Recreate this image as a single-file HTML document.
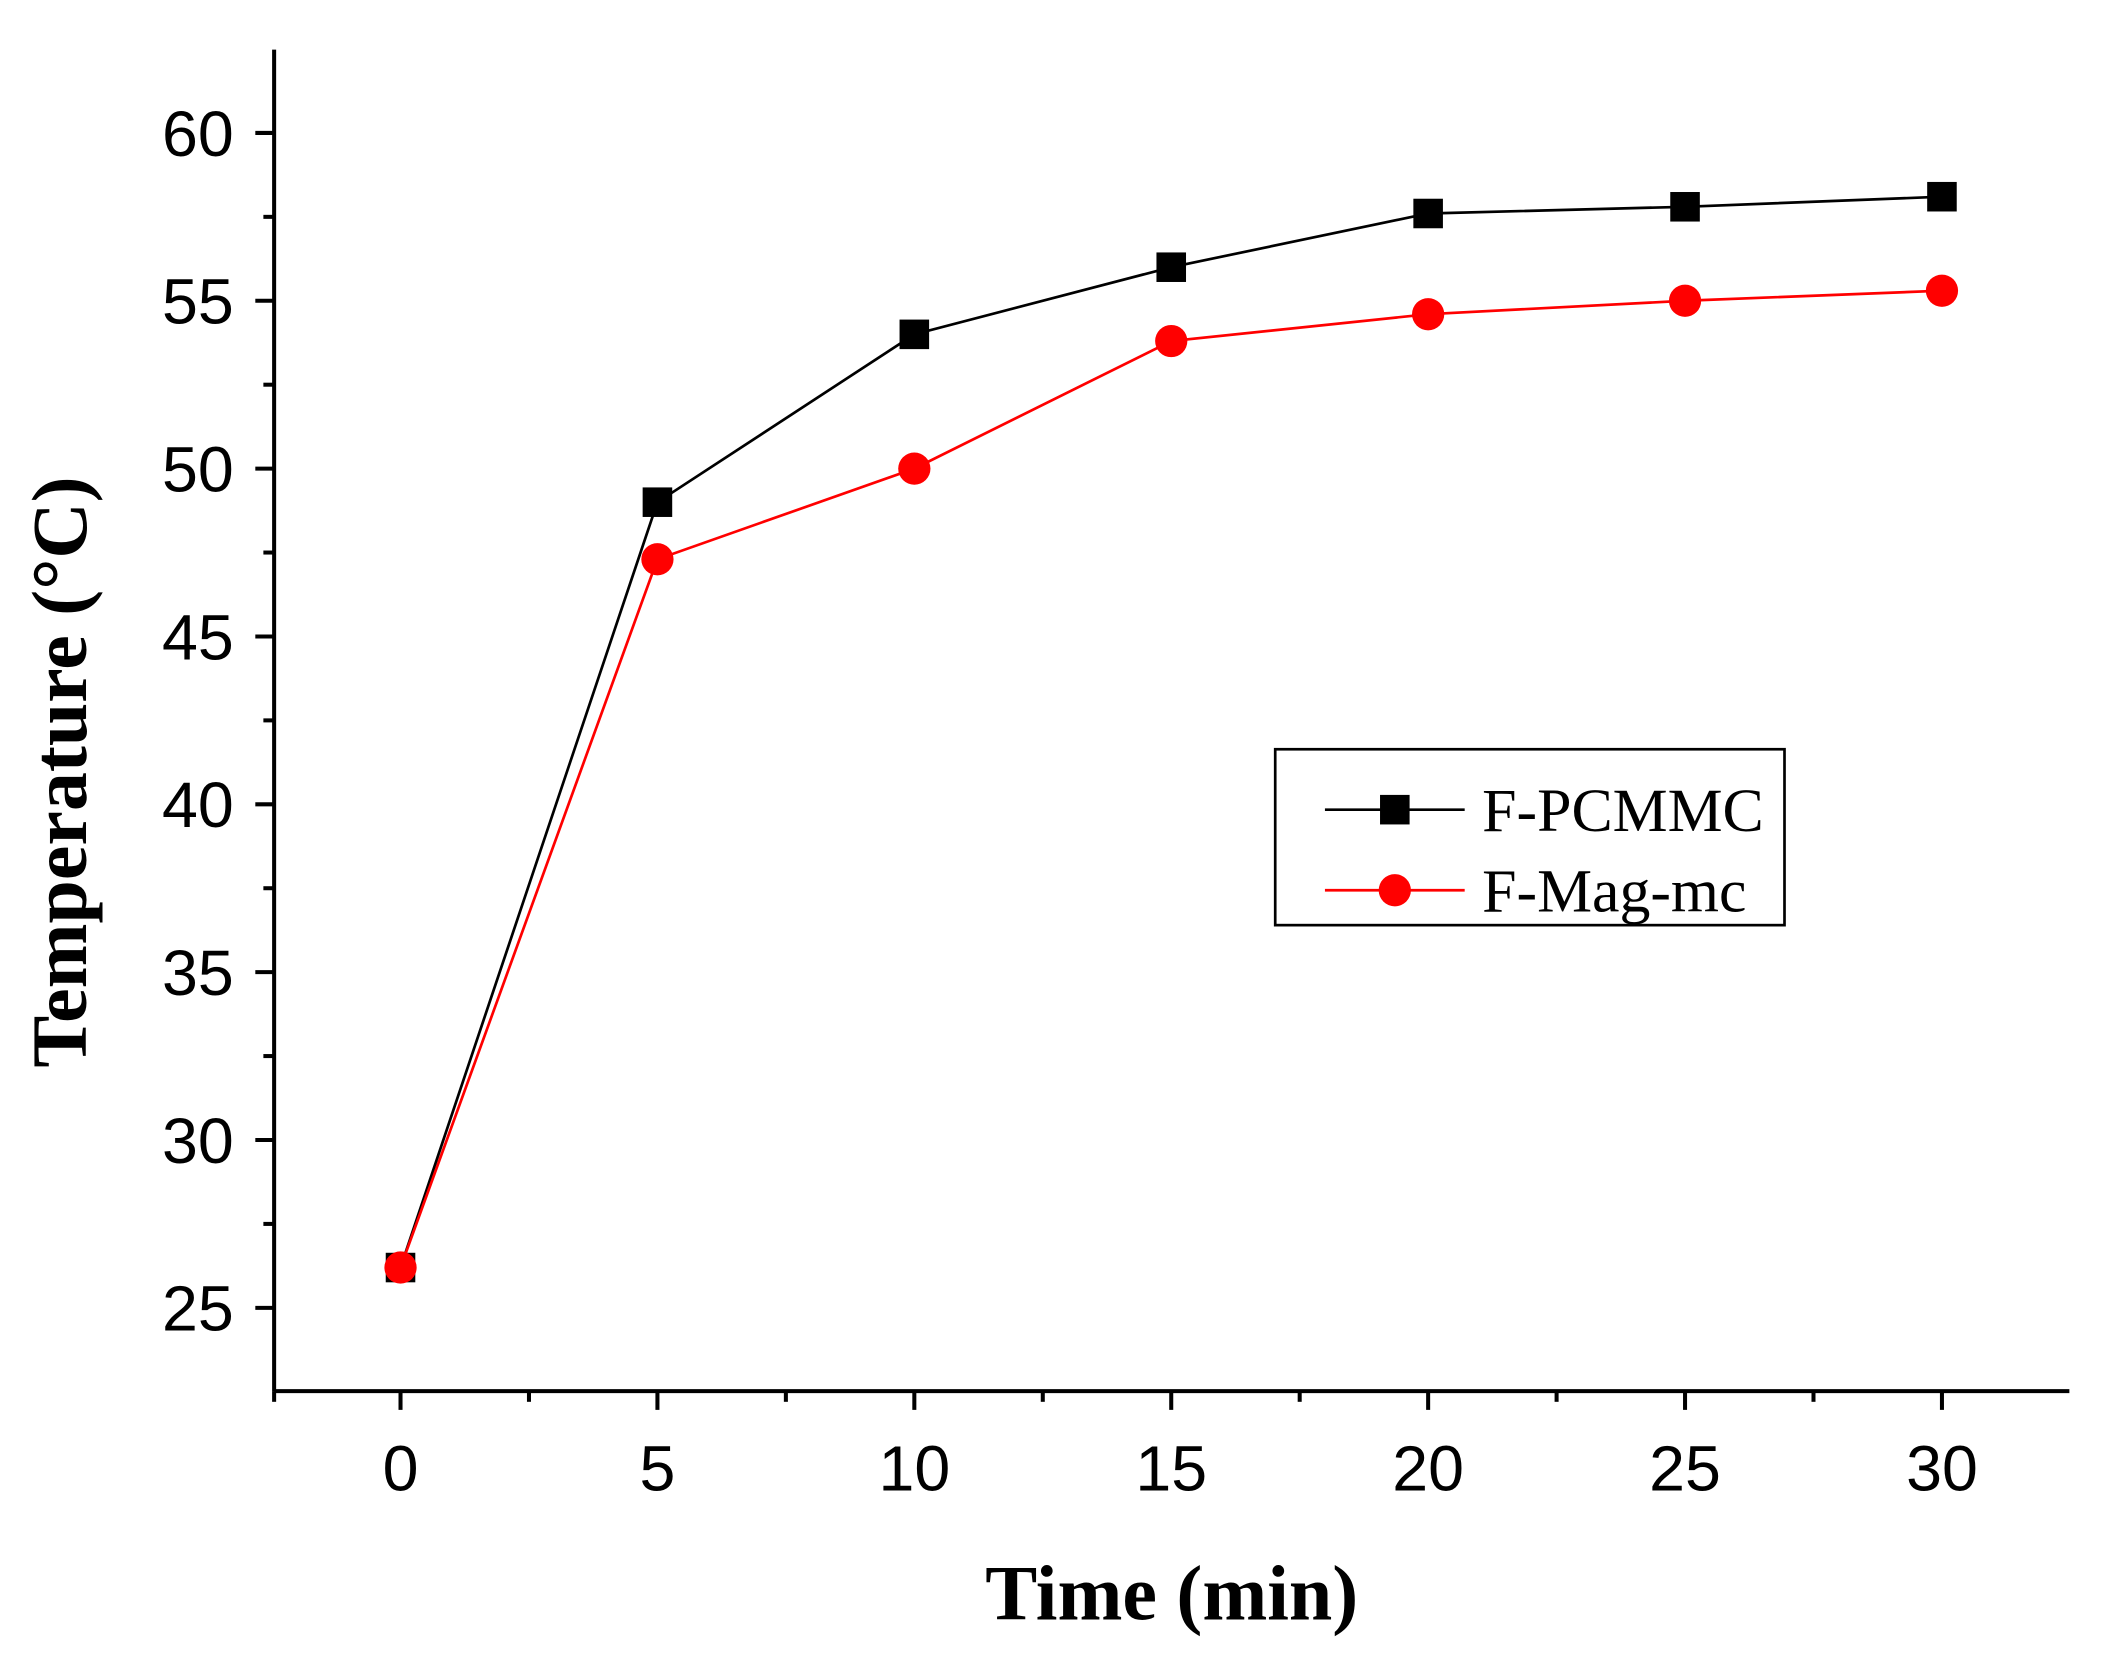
<!DOCTYPE html>
<html><head><meta charset="utf-8"><style>
html,body{margin:0;padding:0;background:#fff;}
svg{display:block;}
</style></head><body>
<svg id="chart" width="2107" height="1665" viewBox="0 0 1568 1240" preserveAspectRatio="none" xmlns="http://www.w3.org/2000/svg">
<g id="axes"></g>
<g id="series"></g>
<g>
  <rect x="949" y="558" width="379" height="131" fill="#fff" stroke="#000" stroke-width="2"/>
  <line x1="986" y1="603" x2="1090" y2="603" stroke="#000" stroke-width="2"/>
  <rect x="1027" y="592" width="22" height="22" fill="#000"/>
  <text x="1103" y="619" font-family="Liberation Serif, serif" font-size="46">F-PCMMC</text>
  <line x1="986" y1="663" x2="1090" y2="663" stroke="#f00" stroke-width="2"/>
  <circle cx="1038" cy="663" r="12" fill="#f00"/>
  <text x="1103" y="679" font-family="Liberation Serif, serif" font-size="46">F-Mag-mc</text>
</g>
<text x="872" y="1206" text-anchor="middle" font-family="Liberation Serif, serif" font-weight="bold" font-size="58">Time (min)</text>
<text transform="translate(64,575) rotate(-90)" text-anchor="middle" font-family="Liberation Serif, serif" font-weight="bold" font-size="58">Temperature (°C)</text>
</svg>
<script>
const times = [0, 5, 10, 15, 20, 25, 30];
const fpcmmc = [26.2, 49, 54, 56, 57.6, 57.8, 58.1];
const fmagmc = [26.2, 47.3, 50, 53.8, 54.6, 55, 55.3];
const xTicks = [0, 5, 10, 15, 20, 25, 30];
const yTicks = [25, 30, 35, 40, 45, 50, 55, 60];

const NS = "http://www.w3.org/2000/svg";
const X0 = 204, X1 = 1540, Y0 = 1036, Y1 = 37;
const xMin = -2.46, xMax = 32.48, yMin = 22.52, yMax = 62.48;
function sx(v){ return X0 + (v - xMin) / (xMax - xMin) * (X1 - X0); }
function sy(v){ return Y0 - (v - yMin) / (yMax - yMin) * (Y0 - Y1); }
function mk(tag, attrs, parent){ const e = document.createElementNS(NS, tag); for (const k in attrs) e.setAttribute(k, attrs[k]); parent.appendChild(e); return e; }

const axes = document.getElementById('axes');
let l;
l = mk('line', {x1:X0, y1:Y1, x2:X0, y2:Y0, stroke:'#000', 'stroke-width':3}, axes);


l = mk('line', {x1:X0, y1:Y0, x2:X1, y2:Y0, stroke:'#000', 'stroke-width':3}, axes);



yTicks.forEach(v => {
  const y = sy(v);
  mk('line', {x1:X0-14, y1:y, x2:X0, y2:y, stroke:'#000', 'stroke-width':3}, axes);
  const m = sy(v + 2.5);
  if (m > Y1) mk('line', {x1:X0-8, y1:m, x2:X0, y2:m, stroke:'#000', 'stroke-width':3}, axes);
  const t = mk('text', {x:X0-30, y:y+17, 'text-anchor':'end', 'font-family':'Liberation Sans, sans-serif', 'font-size':48}, axes);
  t.textContent = v;
  
  
});
xTicks.forEach(v => {
  const x = sx(v);
  mk('line', {x1:x, y1:Y0, x2:x, y2:Y0+14, stroke:'#000', 'stroke-width':3}, axes);
  const m = sx(v + 2.5);
  if (m < X1) mk('line', {x1:m, y1:Y0, x2:m, y2:Y0+8, stroke:'#000', 'stroke-width':3}, axes);
  const t = mk('text', {x:x, y:Y0+74, 'text-anchor':'middle', 'font-family':'Liberation Sans, sans-serif', 'font-size':48}, axes);
  t.textContent = v;
  
  
});
mk('line', {x1:X0, y1:Y0, x2:X0, y2:Y0+8, stroke:'#000', 'stroke-width':3}, axes);

const series = document.getElementById('series');
function line(vals, color, name){
  const pts = vals.map((v,i) => sx(times[i]) + ',' + sy(v)).join(' ');
  const p = mk('polyline', {points:pts, fill:'none', stroke:color, 'stroke-width':2}, series);
  
  
}
line(fpcmmc, '#000', 'line-fpcmmc');
line(fmagmc, '#f00', 'line-fmagmc');
fpcmmc.forEach((v,i) => {
  const r = mk('rect', {x:sx(times[i])-11, y:sy(v)-11, width:22, height:22, fill:'#000'}, series);
  
  
});
fmagmc.forEach((v,i) => {
  const c = mk('circle', {cx:sx(times[i]), cy:sy(v), r:12, fill:'#f00'}, series);
  
  
});
</script>
</body></html>
